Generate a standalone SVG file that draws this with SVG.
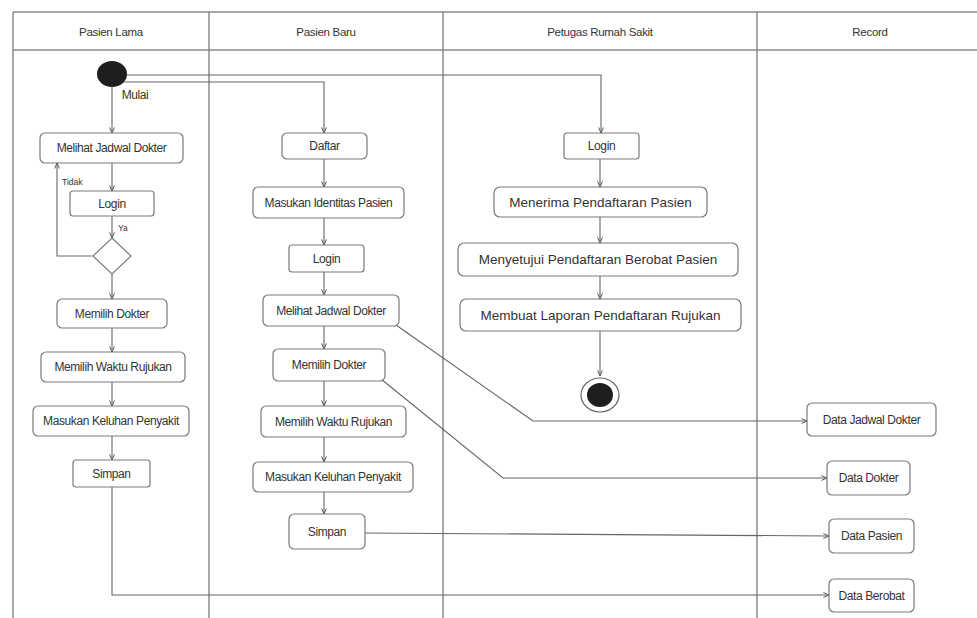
<svg xmlns="http://www.w3.org/2000/svg" width="977" height="618" viewBox="0 0 977 618">
<defs>
<marker id="arr" viewBox="0 0 10 10" refX="9" refY="5" markerWidth="7" markerHeight="7" orient="auto" markerUnits="userSpaceOnUse">
<path d="M1,1.5 L9,5 L1,8.5" fill="none" stroke="#555" stroke-width="1.4"/>
</marker>
<style>
.frame{fill:none;stroke:#8a8a8a;stroke-width:1.5}
.box{fill:#fff;stroke:#7a7a7a;stroke-width:1.2}
.t{font-family:"Liberation Sans",Arial,sans-serif;font-size:12px;fill:#333;text-anchor:middle;dominant-baseline:central;letter-spacing:-0.4px}
.tb{font-family:"Liberation Sans",Arial,sans-serif;font-size:13.5px;fill:#333;text-anchor:middle;dominant-baseline:central}
.h{font-family:"Liberation Sans",Arial,sans-serif;font-size:11.5px;fill:#333;text-anchor:middle;dominant-baseline:central;letter-spacing:-0.3px}
.s{font-family:"Liberation Sans",Arial,sans-serif;font-size:8.5px;fill:#333;dominant-baseline:central}
.c{fill:none;stroke:#666;stroke-width:1.1;marker-end:url(#arr)}
.cn{fill:none;stroke:#666;stroke-width:1.1}
</style>
</defs>
<rect width="977" height="618" fill="#fff"/>
<g id="lanes">
<line class="frame" x1="13" y1="12" x2="977" y2="12"/>
<line class="frame" x1="13" y1="50" x2="977" y2="50"/>
<line class="frame" x1="13" y1="12" x2="13" y2="618"/>
<line class="frame" x1="209" y1="12" x2="209" y2="618"/>
<line class="frame" x1="443" y1="12" x2="443" y2="618"/>
<line class="frame" x1="757" y1="12" x2="757" y2="618"/>
<text class="h" x="111" y="32">Pasien Lama</text>
<text class="h" x="326" y="32">Pasien Baru</text>
<text class="h" x="600" y="32">Petugas Rumah Sakit</text>
<text class="h" x="870" y="32">Record</text>
</g>
<g id="connectors">
<path class="c" d="M112,87 V133"/>
<path class="c" d="M112,82 H324 V133"/>
<path class="c" d="M127,75 H601 V133"/>
<path class="c" d="M112,163 V191"/>
<path class="c" d="M112,216 V238"/>
<path class="c" d="M92,256 H57 V163"/>
<path class="c" d="M112,274 V299"/>
<path class="c" d="M112,328 V352"/>
<path class="c" d="M112,382 V406"/>
<path class="c" d="M112,436 V460"/>
<path class="c" d="M112,487 V595 H829"/>
<path class="c" d="M324,159 V187"/>
<path class="c" d="M324,218 V245"/>
<path class="c" d="M324,272 V295"/>
<path class="c" d="M324,326 V349"/>
<path class="c" d="M324,381 V406"/>
<path class="c" d="M324,437 V462"/>
<path class="c" d="M324,492 V514"/>
<path class="c" d="M396,325 L533,421 H807"/>
<path class="c" d="M381,379 L503,478 H827"/>
<path class="c" d="M365,533 L829,536"/>
<path class="c" d="M600,159 V187"/>
<path class="c" d="M600,217 V243"/>
<path class="c" d="M600,276 V299"/>
<path class="c" d="M600,331 V376"/>
<text class="s" x="62" y="182">Tidak</text>
<text class="s" x="118" y="228">Ya</text>
</g>
<g id="start">
<ellipse cx="112" cy="74" rx="15" ry="13" fill="#1e1e1e"/>
<text class="t" x="135" y="95">Mulai</text>
</g>
<g id="pl-melihat"><rect class="box" x="40" y="133" width="143" height="30" rx="5"/><text class="t" x="111.5" y="148">Melihat Jadwal Dokter</text></g>
<g id="pl-login"><rect class="box" x="70" y="191" width="84" height="25" rx="3"/><text class="t" x="112" y="203.5">Login</text></g>
<g id="pl-decision"><polygon class="box" points="112,238 131,256 112,274 93,256"/></g>
<g id="pl-memilih-dokter"><rect class="box" x="57" y="299" width="110" height="29" rx="5"/><text class="t" x="112" y="313.5">Memilih Dokter</text></g>
<g id="pl-waktu"><rect class="box" x="41" y="352" width="144" height="30" rx="5"/><text class="t" x="113" y="367">Memilih Waktu Rujukan</text></g>
<g id="pl-keluhan"><rect class="box" x="33" y="406" width="156" height="30" rx="5"/><text class="t" x="111" y="421">Masukan Keluhan Penyakit</text></g>
<g id="pl-simpan"><rect class="box" x="73" y="460" width="77" height="27" rx="3"/><text class="t" x="111.5" y="473.5">Simpan</text></g>
<g id="pb-daftar"><rect class="box" x="282" y="133" width="85" height="26" rx="5"/><text class="t" x="324.5" y="146">Daftar</text></g>
<g id="pb-identitas"><rect class="box" x="253" y="187" width="151" height="31" rx="5"/><text class="t" x="328.5" y="202.5">Masukan Identitas Pasien</text></g>
<g id="pb-login"><rect class="box" x="289" y="245" width="75" height="27" rx="3"/><text class="t" x="326.5" y="258.5">Login</text></g>
<g id="pb-melihat"><rect class="box" x="263" y="295" width="136" height="31" rx="5"/><text class="t" x="331" y="310.5">Melihat Jadwal Dokter</text></g>
<g id="pb-memilih-dokter"><rect class="box" x="273" y="349" width="112" height="32" rx="5"/><text class="t" x="329" y="365">Memilih Dokter</text></g>
<g id="pb-waktu"><rect class="box" x="261" y="406" width="145" height="31" rx="5"/><text class="t" x="333.5" y="421.5">Memilih Waktu Rujukan</text></g>
<g id="pb-keluhan"><rect class="box" x="253" y="462" width="160" height="30" rx="5"/><text class="t" x="333" y="477">Masukan Keluhan Penyakit</text></g>
<g id="pb-simpan"><rect class="box" x="289" y="514" width="76" height="35" rx="5"/><text class="t" x="327" y="531.5">Simpan</text></g>
<g id="pt-login"><rect class="box" x="564" y="133" width="75" height="26" rx="3"/><text class="t" x="601.5" y="146">Login</text></g>
<g id="pt-menerima"><rect class="box" x="494" y="187" width="213" height="30" rx="6"/><text class="tb" x="600.5" y="202">Menerima Pendaftaran Pasien</text></g>
<g id="pt-menyetujui"><rect class="box" x="458" y="243" width="280" height="33" rx="6"/><text class="tb" x="598" y="259.5">Menyetujui Pendaftaran Berobat Pasien</text></g>
<g id="pt-membuat"><rect class="box" x="460" y="299" width="281" height="32" rx="6"/><text class="tb" x="600.5" y="315">Membuat Laporan Pendaftaran Rujukan</text></g>
<g id="end">
<ellipse cx="600" cy="395" rx="19" ry="17" fill="#fff" stroke="#666" stroke-width="1.2"/>
<ellipse cx="600" cy="395" rx="13" ry="12" fill="#1e1e1e"/>
</g>
<g id="r-jadwal"><rect class="box" x="807" y="403" width="129" height="33" rx="5"/><text class="t" x="871.5" y="419.5">Data Jadwal Dokter</text></g>
<g id="r-dokter"><rect class="box" x="827" y="461" width="83" height="34" rx="5"/><text class="t" x="868.5" y="478">Data Dokter</text></g>
<g id="r-pasien"><rect class="box" x="829" y="519" width="85" height="34" rx="5"/><text class="t" x="871.5" y="536">Data Pasien</text></g>
<g id="r-berobat"><rect class="box" x="829" y="579" width="85" height="33" rx="5"/><text class="t" x="871.5" y="595.5">Data Berobat</text></g>
</svg>
